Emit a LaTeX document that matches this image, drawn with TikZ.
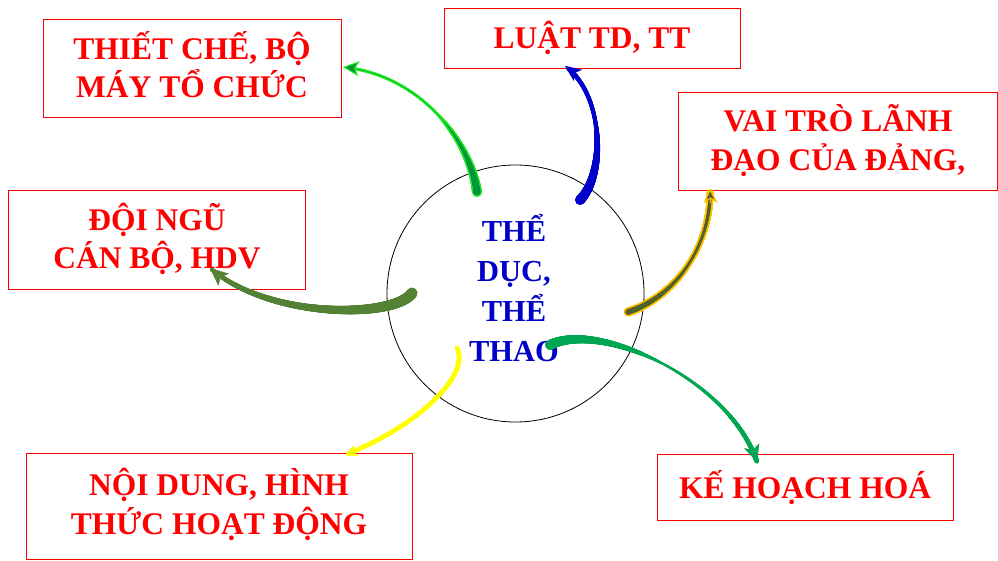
\documentclass[tikz,border=0pt]{standalone}
\usepackage{fontspec}
\setmainfont{Liberation Serif}
\usetikzlibrary{decorations.markings,arrows.meta,calc}
\definecolor{boxred}{RGB}{255,0,0}
\definecolor{cblue}{RGB}{0,0,200}
\definecolor{aonelime}{RGB}{30,235,30}
\definecolor{aonedark}{RGB}{0,150,60}
\definecolor{atwoblue}{RGB}{0,0,200}
\definecolor{athreeorange}{RGB}{255,192,0}
\definecolor{athreeolive}{RGB}{79,98,40}
\definecolor{afourolive}{RGB}{84,130,53}
\definecolor{afiveyellow}{RGB}{255,255,0}
\definecolor{asixgreen}{RGB}{0,166,81}
\tikzset{
  taper/.style n args={5}{decoration={markings,
    mark=between positions 0 and -6pt step 0.3pt with {%
      \pgfmathsetmacro\tpd{\pgfkeysvalueof{/pgf/decoration/mark info/distance from start}/\pgfdecoratedpathlength}%
      \pgfmathsetmacro\tpr{max(0.05,0.5*ifthenelse(\tpd<#5,#2+(#3-#2)*\tpd/#5,#3+(#4-#3)*(\tpd-#5)/(1-#5)))}%
      \fill[#1] (0,0) circle[radius=\tpr pt];}}, decorate},
  box/.style={draw=boxred, line width=0.9pt, rectangle, inner sep=0pt},
  lbl/.style={text=boxred, font=\fontsize{31.5}{40}\selectfont\bfseries, inner sep=0pt, anchor=base},
  ctext/.style={text=cblue, font=\fontsize{30.5}{40}\selectfont\bfseries, inner sep=0pt, anchor=base},
}
\begin{document}
\begin{tikzpicture}[x=1pt,y=-1pt]
\useasboundingbox (0,0) rectangle (998,561);
\fill[white] (0,0) rectangle (998,561);
% central circle
\node[draw=black, circle, minimum size=257pt, inner sep=0pt, line width=0.8pt] (C) at (515.5,293.5) {};
\node[ctext] (c1) at (514,241.7) {THỂ};
\node[ctext] (c2) at (514,281.7) {DỤC,};
\node[ctext] (c3) at (514,321.7) {THỂ};
\node[ctext] (c4) at (514,361.7) {THAO};
% boxes
\node[box, minimum width=298pt, minimum height=98pt] (B1) at (192,68) {};
\node[lbl] (B1a) at (192,59.7) {THIẾT CHẾ, BỘ};
\node[lbl] (B1b) at (192,98) {MÁY TỔ CHỨC};
\node[box, minimum width=296pt, minimum height=60pt] (B2) at (592,38.3) {};
\node[lbl] (B2a) at (592,48.3) {LUẬT TD, TT};
\node[box, minimum width=319.5pt, minimum height=98pt] (B3) at (837.75,141.5) {};
\node[lbl] (B3a) at (838,131.3) {VAI TRÒ LÃNH};
\node[lbl] (B3b) at (838,170.3) {ĐẠO CỦA ĐẢNG,};
\node[box, minimum width=297pt, minimum height=99pt] (B4) at (156.5,240) {};
\node[lbl] (B4a) at (157,230.7) {ĐỘI NGŨ};
\node[lbl] (B4b) at (157,269) {CÁN BỘ, HDV};
\node[box, minimum width=386pt, minimum height=106pt] (B5) at (219,506) {};
\node[lbl] (B5a) at (219,495.3) {NỘI DUNG, HÌNH};
\node[lbl] (B5b) at (219,534.7) {THỨC HOẠT ĐỘNG};
\node[box, minimum width=296pt, minimum height=66pt] (B6) at (805,487) {};
\node[lbl] (B6a) at (805,498) {KẾ HOẠCH HOÁ};
% connector end points
\coordinate (t1) at (477,192); \coordinate (h1) at (343,67);
\coordinate (t2) at (580,200); \coordinate (h2) at (565,66);
\coordinate (t3) at (628,312); \coordinate (h3) at (710,188);
\coordinate (t4) at (412,293); \coordinate (h4) at (210,268);
\coordinate (t5) at (457,348); \coordinate (h5) at (345,455);
\coordinate (t6) at (550,345); \coordinate (h6) at (757,462);
% arrow 1 (green, to B1)
\path[taper={aonelime}{10}{3}{3}{0.45}] (t1) .. controls (470,140) and (420,75) .. (h1);
\path[taper={aonedark}{7}{0.4}{0.4}{0.4}] (t1) .. controls (470,140) and (420,75) .. (h1);
\draw[aonelime, line width=1pt, -{Stealth[length=16pt,width=15pt,inset=4pt,fill=aonedark]}] ($(h1)!16pt!(420,75)$) -- (h1);
% arrow 2 (blue, to B2)
\path[taper={atwoblue}{10}{4}{4.5}{0.55}] (t2) .. controls (605,175) and (605,95) .. (h2);
\draw[atwoblue, line width=0.5pt, -{Stealth[length=16pt,width=14pt,inset=4pt]}] ($(h2)!16pt!(605,95)$) -- (h2);
% arrow 3 (orange/olive, to B3)
\path[taper={athreeorange}{9}{6}{7}{0.5}] (t3) .. controls (680,295) and (712,240) .. (h3);
\path[taper={athreeolive}{5.5}{2.5}{3.5}{0.5}] (t3) .. controls (680,295) and (712,240) .. (h3);
\draw[athreeorange, line width=1.3pt, -{Stealth[length=15pt,width=14pt,inset=4pt,fill=athreeolive]}] ($(h3)!15pt!(712,240)$) -- (h3);
% arrow 4 (olive, to B4)
\path[taper={afourolive}{11}{7}{4}{0.5}] (t4) .. controls (395,318) and (270,320) .. (h4);
\draw[afourolive, line width=0.5pt, -{Stealth[length=18pt,width=16pt,inset=4pt]}] ($(h4)!18pt!(270,320)$) -- (h4);
% arrow 5 (yellow, to B5)
\path[taper={afiveyellow}{4.5}{4.5}{4.5}{0.5}] (t5) .. controls (470,375) and (420,425) .. (h5);
\draw[afiveyellow, line width=0.5pt, -{Stealth[length=12pt,width=12pt,inset=3pt]}] ($(h5)!12pt!(420,425)$) -- (h5);
% arrow 6 (green, to B6)
\path[taper={asixgreen}{10}{2.5}{5}{0.45}] (t6) .. controls (600,320) and (730,380) .. (h6);
\draw[asixgreen, line width=0.5pt, -{Stealth[length=17pt,width=16pt,inset=4pt]}] ($(h6)!17pt!(730,380)$) -- (h6);
\end{tikzpicture}
\end{document}
